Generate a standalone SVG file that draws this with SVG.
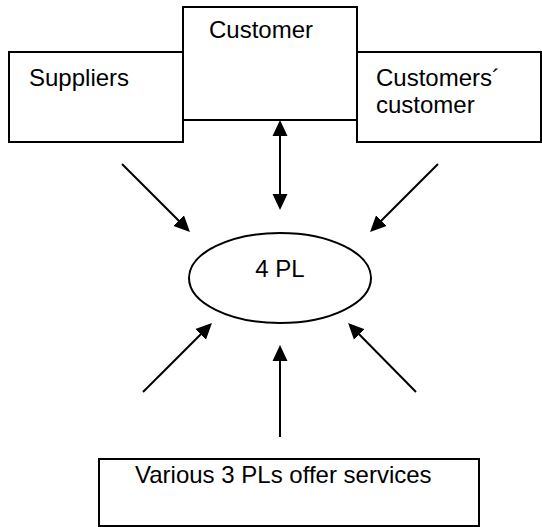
<svg xmlns="http://www.w3.org/2000/svg" width="542" height="527" viewBox="0 0 542 527">
  <style>
    .box { fill: #ffffff; stroke: #000000; stroke-width: 2; }
    .lbl { font-family: "Liberation Sans", Arial, sans-serif; font-size: 24px; fill: #000000; }
    .link { stroke: #000000; stroke-width: 2; fill: none; }
  </style>
  <defs>
    <marker id="head" markerUnits="userSpaceOnUse" markerWidth="16" markerHeight="16" viewBox="0 0 16 16" refX="8" refY="8" orient="auto-start-reverse">
      <path d="M0,0.5 L16,8 L0,15.5 z" fill="#000000"/>
    </marker>
  </defs>
  <rect width="542" height="527" fill="#ffffff"/>

  <g id="suppliers">
    <rect class="box" x="9" y="52" width="174" height="90"/>
    <text class="lbl" x="29" y="86">Suppliers</text>
  </g>
  <g id="customers-customer">
    <rect class="box" x="357" y="52" width="184" height="90"/>
    <text class="lbl" x="376" y="86">Customers´</text>
    <text class="lbl" x="376" y="113">customer</text>
  </g>
  <g id="customer">
    <rect class="box" x="183" y="7" width="174" height="113"/>
    <text class="lbl" x="209" y="38">Customer</text>
  </g>
  <g id="fourpl">
    <ellipse class="box" cx="280" cy="278" rx="91" ry="45"/>
    <text class="lbl" x="280" y="277" text-anchor="middle">4 PL</text>
  </g>
  <g id="threepl">
    <rect class="box" x="99" y="459" width="380" height="67"/>
    <text class="lbl" x="135" y="483">Various 3 PLs offer services</text>
  </g>

  <g id="connectors">
    <!-- customer <-> 4PL -->
    <line class="link" x1="280" y1="128" x2="280" y2="202" marker-start="url(#head)" marker-end="url(#head)"/>
    <!-- suppliers -> 4PL -->
    <line class="link" x1="122" y1="164" x2="184.3" y2="226.3" marker-end="url(#head)"/>
    <!-- customers' customer -> 4PL -->
    <line class="link" x1="438" y1="164" x2="375.7" y2="226.3" marker-end="url(#head)"/>
    <!-- 3PLs -> 4PL -->
    <line class="link" x1="143" y1="392" x2="206.3" y2="328.7" marker-end="url(#head)"/>
    <line class="link" x1="280" y1="437" x2="280" y2="353" marker-end="url(#head)"/>
    <line class="link" x1="416" y1="392" x2="353.7" y2="328.7" marker-end="url(#head)"/>
  </g>
</svg>
